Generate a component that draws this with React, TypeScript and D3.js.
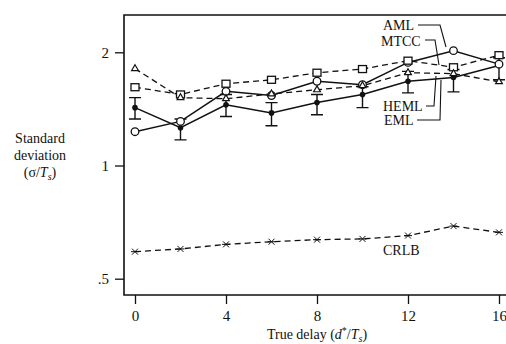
import { useRef, useEffect } from 'react';
import { scaleLinear, scaleLog, axisBottom, axisLeft, select, line, symbol, symbolTriangle } from 'd3';

// true delay d*/Ts
const delays = [0, 2, 4, 6, 8, 10, 12, 14, 16];
// standard deviation sigma/Ts per estimator
const amlValues = [1.23, 1.31, 1.575, 1.535, 1.675, 1.64, 1.88, 2.02, 1.86];
const mtccValues = [1.615, 1.545, 1.65, 1.69, 1.765, 1.805, 1.9, 1.825, 1.965];
const hemlValues = [1.81, 1.515, 1.505, 1.55, 1.59, 1.63, 1.765, 1.755, 1.67];
const emlValues = [1.425, 1.26, 1.45, 1.38, 1.47, 1.545, 1.675, 1.715, 1.845];
const emlLow = [1.33, 1.17, 1.35, 1.275, 1.365, 1.425, 1.56, 1.57, 1.69];
const emlHigh = [1.515, 1.33, 1.545, 1.47, 1.545, 1.62, 1.78, 1.8, 1.935];
const crlbValues = [0.59, 0.6, 0.617, 0.627, 0.635, 0.638, 0.651, 0.69, 0.664];
const xTicks = [0, 4, 8, 12, 16];
const yTicks = [0.5, 1, 2];
const yTickLabels = ['.5', '1', '2'];

const W = 506;
const H = 344;
const FONT = '"Liberation Serif", "Times New Roman", serif';

const App = () => {
  const ref = useRef(null);

  useEffect(() => {
    if (!ref.current) return;
    const svg = select(ref.current);
    svg.selectAll('*').remove();

    const left = 124;
    const top = 15;
    const bottom = 295;
    const x = scaleLinear().domain([0, 16]).range([135, 499]);
    const y = scaleLog().base(2).domain([0.5, 2]).range([278.7, 52.3]);

    const g = svg.append('g').attr('font-family', FONT).attr('fill', '#111');

    // frame
    g.append('path')
      .attr('d', `M${W},${top}H${left}V${bottom}H${W}`)
      .attr('fill', 'none')
      .attr('stroke', '#111')
      .attr('stroke-width', 1.6);

    const yAxis = axisLeft(y)
      .tickValues(yTicks)
      .tickFormat((d, i) => yTickLabels[i])
      .tickSize(9)
      .tickPadding(6);
    const ya = g.append('g').attr('transform', `translate(${left},0)`).call(yAxis);
    ya.select('.domain').remove();
    ya.selectAll('line').attr('stroke', '#111').attr('stroke-width', 1.3);
    ya.selectAll('text').attr('font-family', FONT).attr('font-size', 15).attr('fill', '#111');

    const xAxis = axisBottom(x).tickValues(xTicks).tickSize(9).tickPadding(6);
    const xa = g.append('g').attr('transform', `translate(0,${bottom})`).call(xAxis);
    xa.select('.domain').remove();
    xa.selectAll('line').attr('stroke', '#111').attr('stroke-width', 1.3);
    xa.selectAll('text').attr('font-family', FONT).attr('font-size', 15).attr('fill', '#111');

    // axis titles
    const xt = g.append('text').attr('x', 317).attr('y', 339).attr('text-anchor', 'middle').attr('font-size', 14);
    xt.append('tspan').text('True delay (');
    xt.append('tspan').attr('font-style', 'italic').text('d');
    xt.append('tspan').attr('font-size', 10).attr('dy', -5).text('*');
    xt.append('tspan').attr('dy', 5).text('/');
    xt.append('tspan').attr('font-style', 'italic').text('T');
    xt.append('tspan').attr('font-style', 'italic').attr('font-size', 10).attr('dy', 3).text('s');
    xt.append('tspan').attr('dy', -3).text(')');

    g.append('text').attr('x', 40).attr('y', 143).attr('text-anchor', 'middle').attr('font-size', 14).text('Standard');
    g.append('text').attr('x', 40).attr('y', 160).attr('text-anchor', 'middle').attr('font-size', 14).text('deviation');
    const yt = g.append('text').attr('x', 40).attr('y', 177).attr('text-anchor', 'middle').attr('font-size', 14);
    yt.append('tspan').text('(σ/');
    yt.append('tspan').attr('font-style', 'italic').text('T');
    yt.append('tspan').attr('font-style', 'italic').attr('font-size', 10).attr('dy', 3).text('s');
    yt.append('tspan').attr('dy', -3).text(')');

    const mk = (vals: number[]) =>
      line<number>()
        .x((d, i) => x(delays[i]))
        .y((d) => y(d))(vals);

    const drawLine = (vals: number[], dashed: boolean) =>
      g.append('path')
        .attr('d', mk(vals))
        .attr('fill', 'none')
        .attr('stroke', '#111')
        .attr('stroke-width', dashed ? 1.3 : 1.5)
        .attr('stroke-dasharray', dashed ? '6,4' : null);

    drawLine(crlbValues, true);
    drawLine(hemlValues, true);
    drawLine(mtccValues, true);
    drawLine(amlValues, false);
    drawLine(emlValues, false);

    // EML error bars
    delays.forEach((d, i) => {
      const cx = x(d);
      g.append('path')
        .attr('d', `M${cx},${y(emlLow[i])}V${y(emlHigh[i])}M${cx - 6},${y(emlLow[i])}H${cx + 6}M${cx - 6},${y(emlHigh[i])}H${cx + 6}`)
        .attr('stroke', '#111')
        .attr('stroke-width', 1.4)
        .attr('fill', 'none');
    });

    // markers
    g.selectAll('.eml').data(emlValues).enter().append('circle')
      .attr('cx', (d, i) => x(delays[i])).attr('cy', (d) => y(d)).attr('r', 2.8).attr('fill', '#111');
    g.selectAll('.aml').data(amlValues).enter().append('circle')
      .attr('cx', (d, i) => x(delays[i])).attr('cy', (d) => y(d)).attr('r', 3.8)
      .attr('fill', '#fff').attr('stroke', '#111').attr('stroke-width', 1.3);
    g.selectAll('.mtcc').data(mtccValues).enter().append('rect')
      .attr('x', (d, i) => x(delays[i]) - 4).attr('y', (d) => y(d) - 3.5).attr('width', 8).attr('height', 7)
      .attr('fill', '#fff').attr('stroke', '#111').attr('stroke-width', 1.3);
    const tri = symbol().type(symbolTriangle).size(20);
    g.selectAll('.heml').data(hemlValues).enter().append('path')
      .attr('d', tri)
      .attr('transform', (d, i) => `translate(${x(delays[i])},${y(d)})`)
      .attr('fill', '#fff').attr('stroke', '#111').attr('stroke-width', 1.2);
    g.selectAll('.crlb').data(crlbValues).enter().append('path')
      .attr('d', (d, i) => {
        const cx = x(delays[i]);
        const cy = y(d);
        return `M${cx - 3},${cy - 3}L${cx + 3},${cy + 3}M${cx - 3},${cy + 3}L${cx + 3},${cy - 3}M${cx - 4},${cy}H${cx + 4}`;
      })
      .attr('stroke', '#111').attr('stroke-width', 1);

    // labels with leader lines
    const lbl = (t: string, lx: number, ly: number) =>
      g.append('text').attr('x', lx).attr('y', ly).attr('font-size', 14).text(t);
    lbl('AML', 383, 30);
    lbl('MTCC', 381, 46);
    lbl('HEML', 383, 111);
    lbl('EML', 384, 125);
    lbl('CRLB', 383, 255);

    const leader = (d: string) =>
      g.append('path').attr('d', d).attr('fill', 'none').attr('stroke', '#111').attr('stroke-width', 1.1);
    leader('M418,25H440L446,47');
    leader('M425,40H435L439,65');
    leader('M426,106H434L436,76');
    leader('M417,120H440L441,80');
  }, []);

  return (
    <div style={{ position: 'absolute', left: 0, top: 0 }}>
      <svg ref={ref} width={W} height={H} style={{ display: 'block', background: '#fff' }} />
    </div>
  );
};

export default App;
